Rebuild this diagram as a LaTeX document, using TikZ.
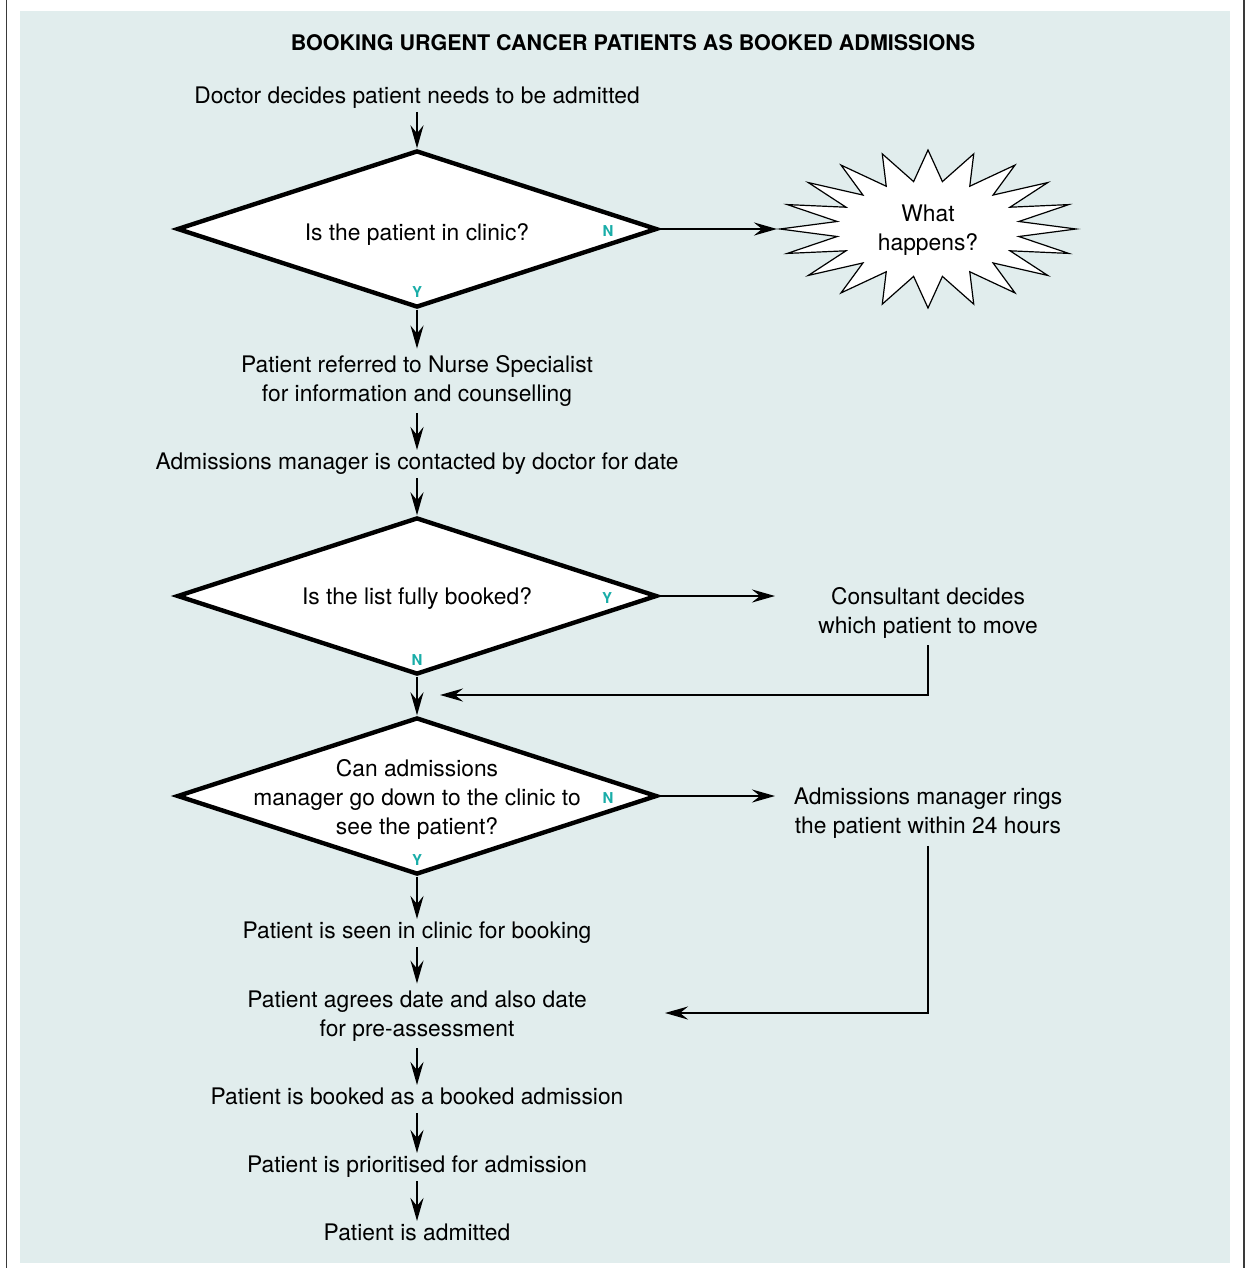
\documentclass[tikz,border=0pt]{standalone}
\usepackage{fontspec}
\setmainfont{TeX Gyre Heros}
\usetikzlibrary{shapes.geometric,arrows.meta}
\definecolor{bgc}{HTML}{E1EDED}
\definecolor{teal1}{HTML}{19ADA8}
\definecolor{side}{HTML}{3A3A3A}
\begin{document}
\begin{tikzpicture}[x=0.5pt,y=-0.5pt,
  txt/.style={align=center,inner sep=1.5pt,text height=8.2pt,text depth=2.4pt,
    font=\fontsize{11.4pt}{14.5pt}\selectfont},
  txtm/.style={align=center,inner sep=1.5pt,
    font=\fontsize{11.4pt}{14.5pt}\selectfont},
  ttl/.style={inner sep=1pt,font=\bfseries\fontsize{10.75pt}{12pt}\selectfont},
  dia/.style={shape=diamond,draw,line width=2.2pt,fill=white,minimum width=240pt,
    minimum height=78.5pt,inner sep=0pt},
  lab/.style={text=teal1,inner sep=0pt,font=\bfseries\fontsize{7.5pt}{8pt}\selectfont},
  arr/.style={line width=1.2pt,-{Stealth[length=11.5pt,width=6.5pt,inset=4pt]}},
  sbs/.style={draw,line width=0.6pt,fill=white,line join=miter}
]
\useasboundingbox (0,0) rectangle (1245,1268);
\fill[bgc] (20,11) rectangle (1230,1263);
\draw[side,line width=0.7pt] (6.5,0) -- (6.5,1268);
\draw[side,line width=0.7pt] (1244,0) -- (1244,1268);

\node[ttl] (title) at (633,43) {BOOKING URGENT CANCER PATIENTS AS BOOKED ADMISSIONS};

\node[txt] (t1) at (417,98) {Doctor decides patient needs to be admitted};
\node[dia] (d1) at (417,229) {};
\node[txt] (q1) at (417,235) {Is the patient in clinic?};
\node[lab] (n1) at (608,231) {N};
\node[lab] (y1) at (417,292) {Y};

% starburst
\coordinate (sb) at (928,229);
\draw[sbs] (928+148,229) \foreach \i in {1,...,39}{
  -- ({928+(isodd(\i)?92:148)*cos(\i*9)},{229-(isodd(\i)?48:79)*sin(\i*9)}) } -- cycle;
\node[txtm] (sbt) at (928,230) {\strut What\\happens?\strut};
\coordinate (sbw) at (777,229);

\node[txtm] (t2) at (417,381) {\strut Patient referred to Nurse Specialist\\for information and counselling\strut};
\node[txt] (t3) at (417,464) {Admissions manager is contacted by doctor for date};
\node[dia] (d2) at (417,596) {};
\node[txt] (q2) at (417,599) {Is the list fully booked?};
\node[lab] (y2) at (607,598) {Y};
\node[lab] (n2) at (417,660) {N};
\node[txtm] (c1) at (928,613) {\strut Consultant decides\\which patient to move\strut};
\coordinate (c1w) at (775,596);
\coordinate (j1) at (440,695);

\node[dia] (d3) at (417,796) {};
\node[txtm] (q3) at (417,799.5) {\strut Can admissions\\manager go down to the clinic to\\see the patient?\strut};
\node[lab] (n3) at (608,798) {N};
\node[lab] (y3) at (417,860) {Y};
\node[txtm] (r1) at (928,813.5) {\strut Admissions manager rings\\the patient within 24 hours\strut};
\coordinate (r1w) at (775,796);
\coordinate (j2) at (665,1013);

\node[txt] (t4) at (417,933) {Patient is seen in clinic for booking};
\node[txtm] (t5) at (417,1016) {\strut Patient agrees date and also date\\for pre-assessment\strut};
\node[txt] (t6) at (417,1099) {Patient is booked as a booked admission};
\node[txt] (t7) at (417,1167) {Patient is prioritised for admission};
\node[txt] (t8) at (417,1235) {Patient is admitted};

\draw[arr] (t1.south) -- (d1.north);
\draw[arr] (d1.east) -- (sbw);
\draw[arr] (d1.south) -- (t2.north);
\draw[arr] (t2.south) -- (t3.north);
\draw[arr] (t3.south) -- (d2.north);
\draw[arr] (d2.east) -- (c1w);
\draw[arr] (c1.south) |- (j1);
\draw[arr] (d2.south) -- (d3.north);
\draw[arr] (d3.east) -- (r1w);
\draw[arr] (r1.south) |- (j2);
\draw[arr] (d3.south) -- (t4.north);
\draw[arr] (t4.south) -- (t5.north);
\draw[arr] (t5.south) -- (t6.north);
\draw[arr] (t6.south) -- (t7.north);
\draw[arr] (t7.south) -- (t8.north);
\end{tikzpicture}
\end{document}
